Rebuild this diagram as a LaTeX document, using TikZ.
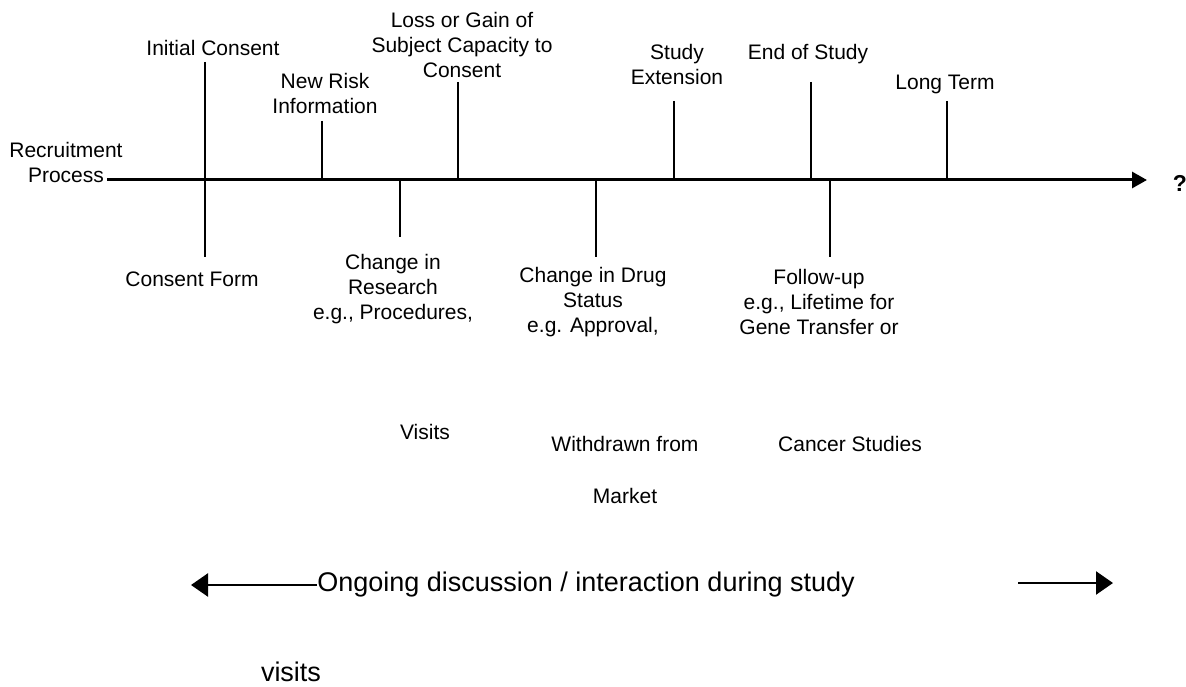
\documentclass[tikz,border=0pt]{standalone}
\usepackage{fontspec}
\setmainfont{Liberation Sans}
\usetikzlibrary{arrows.meta}
\tikzset{
  lbl/.style={inner sep=0pt, align=center, font=\fontsize{21}{25}\selectfont},
  big/.style={inner sep=0pt, font=\fontsize{27}{30}\selectfont},
  tick/.style={line width=2.6pt},
  axis/.style={line width=3pt, -{Triangle[length=15pt,width=16pt]}},
  side/.style={line width=2.4pt, -{Triangle[length=17pt,width=23pt]}}
}
\begin{document}
\begin{tikzpicture}[x=1pt,y=-1pt]
\useasboundingbox (0,0) rectangle (1186,687);
% axis
\coordinate (a0) at (107,180);
\coordinate (a1) at (1147,180);
\draw[axis] (a0) -- (a1);
\node[inner sep=0pt, font=\fontsize{23}{26}\selectfont\bfseries] (q) at (1180,183) {?};
\node[lbl] (recr) at (66,162) {Recruitment\\Process};
% upper ticks
\node[lbl] (init) at (213,48) {Initial Consent};
\coordinate (t1) at (205,62); \coordinate (b1) at (205,257);
\draw[tick] (t1) -- (b1);
\node[lbl] (risk) at (325,93) {New Risk\\Information};
\coordinate (t2) at (322,121); \coordinate (m2) at (322,180);
\draw[tick] (t2) -- (m2);
\node[lbl] (loss) at (462,45) {Loss or Gain of\\Subject Capacity to\\Consent};
\coordinate (t3) at (458,82); \coordinate (m3) at (458,180);
\draw[tick] (t3) -- (m3);
\node[lbl] (ext) at (677,64) {Study\\Extension};
\coordinate (t4) at (674,101); \coordinate (m4) at (674,180);
\draw[tick] (t4) -- (m4);
\node[lbl] (end) at (808,54) {End of Study};
\coordinate (t5) at (811,82); \coordinate (m5) at (811,180);
\draw[tick] (t5) -- (m5);
\node[lbl] (long) at (945,84) {Long Term};
\coordinate (t6) at (947,101); \coordinate (m6) at (947,180);
\draw[tick] (t6) -- (m6);
% lower ticks
\node[lbl] (form) at (192,279) {Consent Form};
\node[lbl] (res) at (393,289) {Change in\\Research\\e.g., Procedures,};
\coordinate (m7) at (400,180); \coordinate (b7) at (400,237);
\draw[tick] (m7) -- (b7);
\node[lbl] (drug) at (593,302) {Change in Drug\\Status\\e.g. Approval,};
\coordinate (m8) at (596,180); \coordinate (b8) at (596,257);
\draw[tick] (m8) -- (b8);
\node[lbl] (fol) at (819,302) {Follow-up\\e.g., Lifetime for\\Gene Transfer or};
\coordinate (m9) at (830,180); \coordinate (b9) at (830,257);
\draw[tick] (m9) -- (b9);
% loose texts
\node[lbl] (visits) at (425,432) {Visits};
\node[lbl] (withd) at (625,444) {Withdrawn from};
\node[lbl] (market) at (625,496) {Market};
\node[lbl] (cancer) at (850,444) {Cancer Studies};
% bottom
\node[big] (ongo) at (586,585) {Ongoing discussion / interaction during study};
\coordinate (lt) at (191,585);
\draw[side] (ongo.west) -- (lt);
\coordinate (rs) at (1018,583); \coordinate (rt) at (1113,583);
\draw[side] (rs) -- (rt);
\node[big] (vis2) at (291,672) {visits};
\end{tikzpicture}
\end{document}
